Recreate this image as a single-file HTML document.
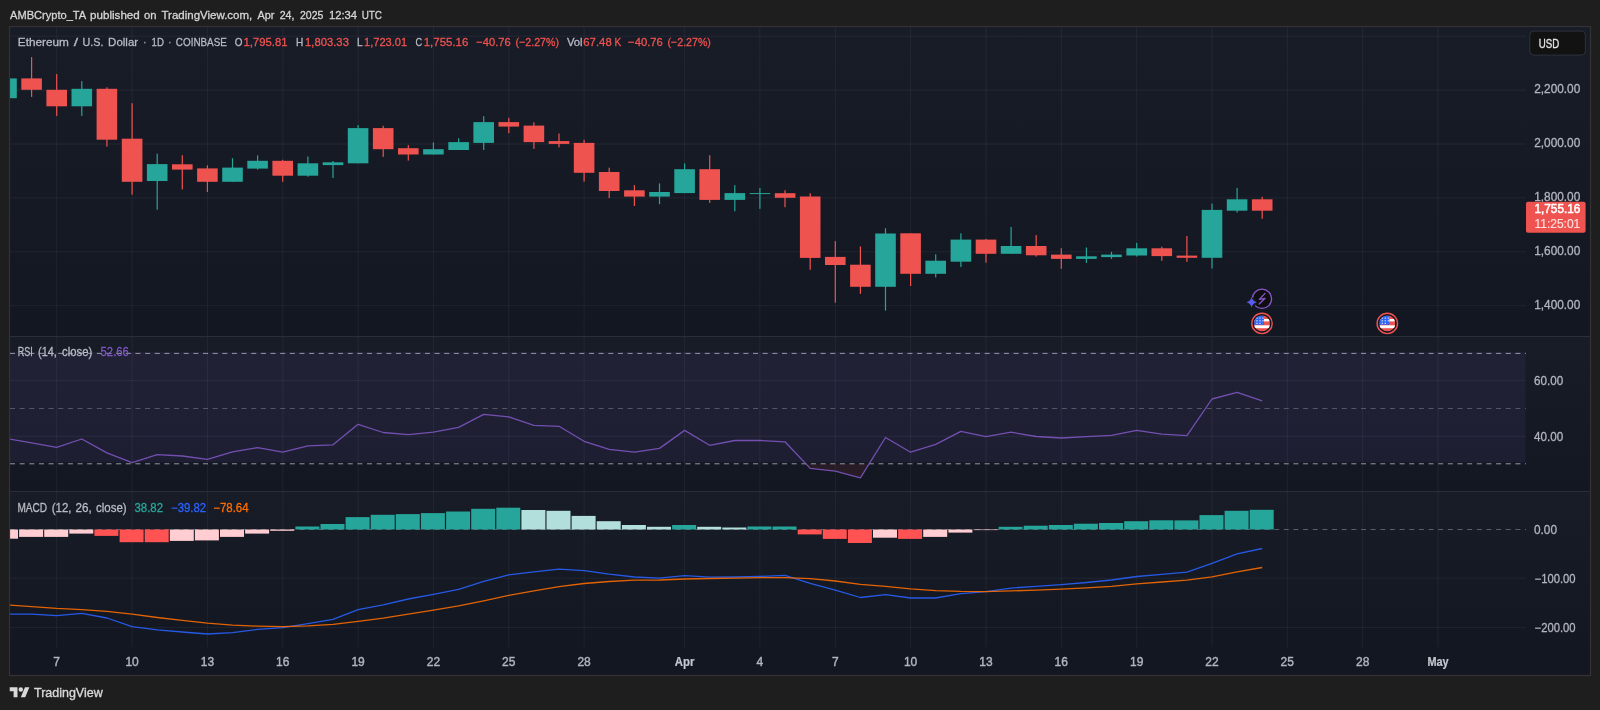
<!DOCTYPE html><html><head><meta charset="utf-8"><title>ETHUSD</title>
<style>html,body{margin:0;padding:0;background:#1e1e1e;}body{width:1600px;height:710px;overflow:hidden;font-family:"Liberation Sans",sans-serif;}svg{display:block;}text{font-family:"Liberation Sans",sans-serif;}</style></head><body>
<svg width="1600" height="710" viewBox="0 0 1600 710" style="will-change:transform">
<defs><linearGradient id="pg" x1="0" y1="0" x2="0" y2="1"><stop offset="0" stop-color="#181c27"/><stop offset="1" stop-color="#131722"/></linearGradient>
<clipPath id="plot"><rect x="10" y="27" width="1516" height="620"/></clipPath>
<clipPath id="fc"><circle cx="0" cy="0" r="8"/></clipPath>
</defs>
<rect width="1600" height="710" fill="#1e1e1e"/>
<rect x="10" y="27" width="1580" height="309" fill="url(#pg)"/>
<rect x="10" y="336" width="1580" height="155" fill="url(#pg)"/>
<rect x="10" y="491" width="1580" height="156" fill="url(#pg)"/>
<rect x="10" y="647" width="1580" height="28" fill="#131722"/>
<rect x="10" y="351.9" width="1515.6" height="110.4" fill="rgba(126,87,194,0.1)"/>
<path d="M56.7 27V647M132.1 27V647M207.4 27V647M282.8 27V647M358.1 27V647M433.4 27V647M508.8 27V647M584.1 27V647M684.6 27V647M759.9 27V647M835.3 27V647M910.6 27V647M986.0 27V647M1061.3 27V647M1136.7 27V647M1212.0 27V647M1287.3 27V647M1362.7 27V647M1438.0 27V647M10 36.2H1526M10 90.1H1526M10 144.0H1526M10 197.9H1526M10 251.8H1526M10 305.7H1526M10 380.6H1526M10 436.3H1526M10 578.2H1526M10 627.4H1526" stroke="rgba(240,243,250,0.06)" stroke-width="1" fill="none"/>
<path d="M10 336.5H1590M10 491.5H1590" stroke="#2a2e39" stroke-width="1" fill="none"/>
<path d="M10 353.4H1526M10 463.8H1526" stroke="#9598a1" stroke-width="1" stroke-dasharray="5 4.65" fill="none"/>
<path d="M10 408.5H1526" stroke="#787b86" stroke-opacity="0.6" stroke-width="1" stroke-dasharray="5 4.65" fill="none"/>
<path d="M10 529.5H1526" stroke="#787b86" stroke-opacity="0.7" stroke-width="1" stroke-dasharray="5 4.65" fill="none"/>
<g clip-path="url(#plot)">
<rect x="5.9" y="78.4" width="1.2" height="19.8" fill="#26a69a"/><rect x="-3.8" y="78.4" width="20.6" height="19.8" fill="#26a69a"/>
<rect x="31.0" y="57.1" width="1.2" height="39.8" fill="#ef5350"/><rect x="21.3" y="78.4" width="20.6" height="11.4" fill="#ef5350"/>
<rect x="56.1" y="74.1" width="1.2" height="41.8" fill="#ef5350"/><rect x="46.4" y="89.8" width="20.6" height="16.5" fill="#ef5350"/>
<rect x="81.2" y="81.2" width="1.2" height="34.7" fill="#26a69a"/><rect x="71.5" y="88.8" width="20.6" height="17.5" fill="#26a69a"/>
<rect x="106.3" y="87.3" width="1.2" height="59.3" fill="#ef5350"/><rect x="96.6" y="88.8" width="20.6" height="50.9" fill="#ef5350"/>
<rect x="131.5" y="103.2" width="1.2" height="91.5" fill="#ef5350"/><rect x="121.8" y="138.7" width="20.6" height="43.1" fill="#ef5350"/>
<rect x="156.6" y="153.7" width="1.2" height="56.0" fill="#26a69a"/><rect x="146.9" y="164.1" width="20.6" height="16.9" fill="#26a69a"/>
<rect x="181.7" y="155.2" width="1.2" height="34.2" fill="#ef5350"/><rect x="172.0" y="164.3" width="20.6" height="5.3" fill="#ef5350"/>
<rect x="206.8" y="165.3" width="1.2" height="26.7" fill="#ef5350"/><rect x="197.1" y="168.4" width="20.6" height="13.4" fill="#ef5350"/>
<rect x="231.9" y="158.2" width="1.2" height="23.6" fill="#26a69a"/><rect x="222.2" y="167.6" width="20.6" height="14.2" fill="#26a69a"/>
<rect x="257.0" y="155.4" width="1.2" height="14.2" fill="#26a69a"/><rect x="247.3" y="160.8" width="20.6" height="7.8" fill="#26a69a"/>
<rect x="282.1" y="159.8" width="1.2" height="22.0" fill="#ef5350"/><rect x="272.4" y="160.8" width="20.6" height="14.9" fill="#ef5350"/>
<rect x="307.3" y="156.5" width="1.2" height="20.2" fill="#26a69a"/><rect x="297.6" y="163.3" width="20.6" height="12.4" fill="#26a69a"/>
<rect x="332.4" y="161.0" width="1.2" height="17.0" fill="#26a69a"/><rect x="322.7" y="162.3" width="20.6" height="2.8" fill="#26a69a"/>
<rect x="357.5" y="125.0" width="1.2" height="38.3" fill="#26a69a"/><rect x="347.8" y="128.1" width="20.6" height="35.2" fill="#26a69a"/>
<rect x="382.6" y="125.8" width="1.2" height="31.1" fill="#ef5350"/><rect x="372.9" y="128.1" width="20.6" height="21.1" fill="#ef5350"/>
<rect x="407.7" y="145.1" width="1.2" height="15.5" fill="#ef5350"/><rect x="398.0" y="148.2" width="20.6" height="6.3" fill="#ef5350"/>
<rect x="432.8" y="142.4" width="1.2" height="12.1" fill="#26a69a"/><rect x="423.1" y="149.2" width="20.6" height="5.3" fill="#26a69a"/>
<rect x="458.0" y="138.3" width="1.2" height="11.7" fill="#26a69a"/><rect x="448.3" y="142.1" width="20.6" height="7.9" fill="#26a69a"/>
<rect x="483.1" y="116.2" width="1.2" height="33.8" fill="#26a69a"/><rect x="473.4" y="122.1" width="20.6" height="20.8" fill="#26a69a"/>
<rect x="508.2" y="117.8" width="1.2" height="15.4" fill="#ef5350"/><rect x="498.5" y="122.1" width="20.6" height="4.5" fill="#ef5350"/>
<rect x="533.3" y="122.3" width="1.2" height="26.6" fill="#ef5350"/><rect x="523.6" y="125.6" width="20.6" height="16.5" fill="#ef5350"/>
<rect x="558.4" y="133.5" width="1.2" height="13.9" fill="#ef5350"/><rect x="548.7" y="141.1" width="20.6" height="2.8" fill="#ef5350"/>
<rect x="583.5" y="139.8" width="1.2" height="41.8" fill="#ef5350"/><rect x="573.8" y="142.9" width="20.6" height="29.9" fill="#ef5350"/>
<rect x="608.6" y="167.7" width="1.2" height="30.4" fill="#ef5350"/><rect x="598.9" y="172.0" width="20.6" height="19.0" fill="#ef5350"/>
<rect x="633.8" y="185.2" width="1.2" height="20.8" fill="#ef5350"/><rect x="624.1" y="190.3" width="20.6" height="6.3" fill="#ef5350"/>
<rect x="658.9" y="183.4" width="1.2" height="20.8" fill="#26a69a"/><rect x="649.2" y="192.0" width="20.6" height="4.6" fill="#26a69a"/>
<rect x="684.0" y="163.4" width="1.2" height="29.7" fill="#26a69a"/><rect x="674.3" y="169.2" width="20.6" height="23.9" fill="#26a69a"/>
<rect x="709.1" y="155.3" width="1.2" height="47.6" fill="#ef5350"/><rect x="699.4" y="169.2" width="20.6" height="30.7" fill="#ef5350"/>
<rect x="734.2" y="185.2" width="1.2" height="26.1" fill="#26a69a"/><rect x="724.5" y="193.1" width="20.6" height="6.8" fill="#26a69a"/>
<rect x="759.3" y="188.0" width="1.2" height="20.8" fill="#26a69a"/><rect x="749.6" y="193.1" width="20.6" height="1.0" fill="#26a69a"/>
<rect x="784.4" y="190.2" width="1.2" height="17.0" fill="#ef5350"/><rect x="774.8" y="193.2" width="20.6" height="4.6" fill="#ef5350"/>
<rect x="809.6" y="193.2" width="1.2" height="76.6" fill="#ef5350"/><rect x="799.9" y="196.5" width="20.6" height="61.4" fill="#ef5350"/>
<rect x="834.7" y="241.1" width="1.2" height="61.6" fill="#ef5350"/><rect x="825.0" y="256.9" width="20.6" height="8.1" fill="#ef5350"/>
<rect x="859.8" y="246.5" width="1.2" height="47.4" fill="#ef5350"/><rect x="850.1" y="264.7" width="20.6" height="22.1" fill="#ef5350"/>
<rect x="884.9" y="228.2" width="1.2" height="82.4" fill="#26a69a"/><rect x="875.2" y="233.5" width="20.6" height="53.3" fill="#26a69a"/>
<rect x="910.0" y="233.3" width="1.2" height="52.7" fill="#ef5350"/><rect x="900.3" y="233.3" width="20.6" height="40.5" fill="#ef5350"/>
<rect x="935.1" y="254.3" width="1.2" height="23.1" fill="#26a69a"/><rect x="925.4" y="260.7" width="20.6" height="13.1" fill="#26a69a"/>
<rect x="960.3" y="233.3" width="1.2" height="33.7" fill="#26a69a"/><rect x="950.6" y="239.6" width="20.6" height="22.1" fill="#26a69a"/>
<rect x="985.4" y="238.9" width="1.2" height="23.8" fill="#ef5350"/><rect x="975.7" y="239.6" width="20.6" height="14.2" fill="#ef5350"/>
<rect x="1010.5" y="226.9" width="1.2" height="26.9" fill="#26a69a"/><rect x="1000.8" y="246.0" width="20.6" height="7.8" fill="#26a69a"/>
<rect x="1035.6" y="235.1" width="1.2" height="21.5" fill="#ef5350"/><rect x="1025.9" y="246.0" width="20.6" height="9.3" fill="#ef5350"/>
<rect x="1060.7" y="248.2" width="1.2" height="20.6" fill="#ef5350"/><rect x="1051.0" y="254.6" width="20.6" height="4.3" fill="#ef5350"/>
<rect x="1085.8" y="247.5" width="1.2" height="15.4" fill="#26a69a"/><rect x="1076.1" y="256.3" width="20.6" height="2.6" fill="#26a69a"/>
<rect x="1110.9" y="251.8" width="1.2" height="7.1" fill="#26a69a"/><rect x="1101.2" y="254.6" width="20.6" height="2.5" fill="#26a69a"/>
<rect x="1136.1" y="242.9" width="1.2" height="13.6" fill="#26a69a"/><rect x="1126.4" y="248.3" width="20.6" height="7.2" fill="#26a69a"/>
<rect x="1161.2" y="246.7" width="1.2" height="14.2" fill="#ef5350"/><rect x="1151.5" y="248.3" width="20.6" height="7.8" fill="#ef5350"/>
<rect x="1186.3" y="236.0" width="1.2" height="25.9" fill="#ef5350"/><rect x="1176.6" y="255.6" width="20.6" height="2.2" fill="#ef5350"/>
<rect x="1211.4" y="203.6" width="1.2" height="64.9" fill="#26a69a"/><rect x="1201.7" y="209.9" width="20.6" height="47.9" fill="#26a69a"/>
<rect x="1236.5" y="187.9" width="1.2" height="24.6" fill="#26a69a"/><rect x="1226.8" y="199.3" width="20.6" height="11.4" fill="#26a69a"/>
<rect x="1261.6" y="196.8" width="1.2" height="22.0" fill="#ef5350"/><rect x="1251.9" y="199.3" width="20.6" height="11.4" fill="#ef5350"/>
<rect x="-6.0" y="529.5" width="24" height="9.2" fill="#ffcdd2"/>
<rect x="19.1" y="529.5" width="24" height="7.4" fill="#ffcdd2"/>
<rect x="44.2" y="529.5" width="24" height="7.4" fill="#ffcdd2"/>
<rect x="69.3" y="529.5" width="24" height="4.1" fill="#ffcdd2"/>
<rect x="94.4" y="529.5" width="24" height="6.4" fill="#ff5252"/>
<rect x="119.6" y="529.5" width="24" height="12.7" fill="#ff5252"/>
<rect x="144.7" y="529.5" width="24" height="12.7" fill="#ff5252"/>
<rect x="169.8" y="529.5" width="24" height="11.4" fill="#ffcdd2"/>
<rect x="194.9" y="529.5" width="24" height="10.9" fill="#ffcdd2"/>
<rect x="220.0" y="529.5" width="24" height="7.4" fill="#ffcdd2"/>
<rect x="245.1" y="529.5" width="24" height="4.1" fill="#ffcdd2"/>
<rect x="270.2" y="529.5" width="24" height="1.3" fill="#ffcdd2"/>
<rect x="295.4" y="526.5" width="24" height="3.0" fill="#26a69a"/>
<rect x="320.5" y="524.0" width="24" height="5.5" fill="#26a69a"/>
<rect x="345.6" y="517.1" width="24" height="12.4" fill="#26a69a"/>
<rect x="370.7" y="514.8" width="24" height="14.7" fill="#26a69a"/>
<rect x="395.8" y="514.1" width="24" height="15.4" fill="#26a69a"/>
<rect x="420.9" y="513.1" width="24" height="16.4" fill="#26a69a"/>
<rect x="446.1" y="511.5" width="24" height="18.0" fill="#26a69a"/>
<rect x="471.2" y="508.8" width="24" height="20.7" fill="#26a69a"/>
<rect x="496.3" y="507.7" width="24" height="21.8" fill="#26a69a"/>
<rect x="521.4" y="510.0" width="24" height="19.5" fill="#b2dfdb"/>
<rect x="546.5" y="510.8" width="24" height="18.7" fill="#b2dfdb"/>
<rect x="571.6" y="515.9" width="24" height="13.6" fill="#b2dfdb"/>
<rect x="596.7" y="521.2" width="24" height="8.3" fill="#b2dfdb"/>
<rect x="621.9" y="525.0" width="24" height="4.5" fill="#b2dfdb"/>
<rect x="647.0" y="526.8" width="24" height="2.7" fill="#b2dfdb"/>
<rect x="672.1" y="525.0" width="24" height="4.5" fill="#26a69a"/>
<rect x="697.2" y="526.8" width="24" height="2.7" fill="#b2dfdb"/>
<rect x="722.3" y="527.5" width="24" height="2.0" fill="#b2dfdb"/>
<rect x="747.4" y="526.5" width="24" height="3.0" fill="#26a69a"/>
<rect x="772.5" y="526.5" width="24" height="3.0" fill="#26a69a"/>
<rect x="797.7" y="529.5" width="24" height="4.9" fill="#ff5252"/>
<rect x="822.8" y="529.5" width="24" height="9.4" fill="#ff5252"/>
<rect x="847.9" y="529.5" width="24" height="13.5" fill="#ff5252"/>
<rect x="873.0" y="529.5" width="24" height="8.2" fill="#ffcdd2"/>
<rect x="898.1" y="529.5" width="24" height="9.4" fill="#ff5252"/>
<rect x="923.2" y="529.5" width="24" height="7.4" fill="#ffcdd2"/>
<rect x="948.4" y="529.5" width="24" height="3.1" fill="#ffcdd2"/>
<rect x="973.5" y="529.5" width="24" height="0.6" fill="#ffcdd2"/>
<rect x="998.6" y="526.8" width="24" height="2.7" fill="#26a69a"/>
<rect x="1023.7" y="525.7" width="24" height="3.8" fill="#26a69a"/>
<rect x="1048.8" y="525.0" width="24" height="4.5" fill="#26a69a"/>
<rect x="1073.9" y="523.7" width="24" height="5.8" fill="#26a69a"/>
<rect x="1099.0" y="523.0" width="24" height="6.5" fill="#26a69a"/>
<rect x="1124.2" y="521.2" width="24" height="8.3" fill="#26a69a"/>
<rect x="1149.3" y="520.3" width="24" height="9.2" fill="#26a69a"/>
<rect x="1174.4" y="520.4" width="24" height="9.1" fill="#26a69a"/>
<rect x="1199.5" y="515.1" width="24" height="14.4" fill="#26a69a"/>
<rect x="1224.6" y="510.8" width="24" height="18.7" fill="#26a69a"/>
<rect x="1249.7" y="509.8" width="24" height="19.7" fill="#26a69a"/>
<polygon points="805.6,463.8 810.2,468.4 835.3,471.2 860.4,477.8 869.2,463.8" fill="rgba(239,83,80,0.09)"/>
<polyline points="6.5,438.6 31.6,442.8 56.7,447.4 81.8,439.0 106.9,452.9 132.1,462.6 157.2,454.7 182.3,456.0 207.4,459.3 232.5,451.9 257.6,447.6 282.8,452.2 307.9,445.8 333.0,444.8 358.1,424.3 383.2,432.5 408.3,434.7 433.4,432.2 458.6,427.3 483.7,414.4 508.8,416.9 533.9,425.3 559.0,426.3 584.1,441.3 609.2,449.4 634.4,452.2 659.5,448.4 684.6,430.4 709.7,445.3 734.8,440.5 759.9,440.5 785.0,441.8 810.2,468.4 835.3,471.2 860.4,477.8 885.5,437.5 910.6,452.2 935.7,444.3 960.9,431.4 986.0,436.7 1011.1,432.2 1036.2,436.5 1061.3,438.0 1086.4,436.7 1111.5,435.4 1136.7,430.3 1161.8,434.1 1186.9,435.6 1212.0,399.0 1237.1,392.4 1262.2,400.8" fill="none" stroke="#7e57c2" stroke-width="1.3" stroke-opacity="0.88" stroke-linejoin="round"/>
<polyline points="6.5,614.2 31.6,614.2 56.7,615.7 81.8,613.4 106.9,618.0 132.1,626.6 157.2,629.9 182.3,632.0 207.4,634.0 232.5,632.7 257.6,629.4 282.8,627.6 307.9,623.6 333.0,619.3 358.1,609.6 383.2,604.8 408.3,599.0 433.4,594.4 458.6,589.4 483.7,581.3 508.8,574.9 533.9,571.9 559.0,569.1 584.1,570.6 609.2,574.2 634.4,577.0 659.5,578.2 684.6,575.7 709.7,577.2 734.8,577.0 759.9,576.4 785.0,575.4 810.2,583.3 835.3,590.1 860.4,597.5 885.5,594.7 910.6,598.0 935.7,598.0 960.9,593.7 986.0,591.6 1011.1,588.1 1036.2,586.3 1061.3,584.6 1086.4,582.5 1111.5,580.0 1136.7,576.5 1161.8,574.3 1186.9,572.1 1212.0,563.4 1237.1,553.8 1262.2,548.5" fill="none" stroke="#2962ff" stroke-width="1.3" stroke-opacity="0.88" stroke-linejoin="round"/>
<polyline points="6.5,604.8 31.6,606.6 56.7,608.4 81.8,609.6 106.9,611.4 132.1,614.2 157.2,617.5 182.3,620.3 207.4,623.1 232.5,625.1 257.6,626.1 282.8,626.6 307.9,625.9 333.0,624.3 358.1,621.3 383.2,618.2 408.3,614.2 433.4,610.2 458.6,605.8 483.7,600.8 508.8,595.4 533.9,590.9 559.0,586.6 584.1,583.5 609.2,581.5 634.4,580.2 659.5,580.0 684.6,579.0 709.7,578.5 734.8,578.2 759.9,577.7 785.0,577.7 810.2,578.7 835.3,581.0 860.4,584.3 885.5,586.3 910.6,588.9 935.7,590.6 960.9,591.4 986.0,591.6 1011.1,590.9 1036.2,590.1 1061.3,589.1 1086.4,587.8 1111.5,586.3 1136.7,583.8 1161.8,582.0 1186.9,580.2 1212.0,576.8 1237.1,571.8 1262.2,567.5" fill="none" stroke="#ff6d00" stroke-width="1.3" stroke-opacity="0.88" stroke-linejoin="round"/>
</g>
<rect x="9.5" y="26.5" width="1581" height="649" fill="none" stroke="#343232" stroke-width="1.2"/>
<text x="10" y="19.3" font-size="11.6" fill="#d6d6d6" textLength="76.2" lengthAdjust="spacingAndGlyphs" stroke="#d6d6d6" stroke-width="0.3">AMBCrypto_TA</text>
<text x="90" y="19.3" font-size="11.6" fill="#d6d6d6" textLength="49.8" lengthAdjust="spacingAndGlyphs" stroke="#d6d6d6" stroke-width="0.3">published</text>
<text x="144" y="19.3" font-size="11.6" fill="#d6d6d6" textLength="12.5" lengthAdjust="spacingAndGlyphs" stroke="#d6d6d6" stroke-width="0.3">on</text>
<text x="161.5" y="19.3" font-size="11.6" fill="#d6d6d6" textLength="90.8" lengthAdjust="spacingAndGlyphs" stroke="#d6d6d6" stroke-width="0.3">TradingView.com,</text>
<text x="257.5" y="19.3" font-size="11.6" fill="#d6d6d6" textLength="17.0" lengthAdjust="spacingAndGlyphs" stroke="#d6d6d6" stroke-width="0.3">Apr</text>
<text x="279.7" y="19.3" font-size="11.6" fill="#d6d6d6" textLength="14.8" lengthAdjust="spacingAndGlyphs" stroke="#d6d6d6" stroke-width="0.3">24,</text>
<text x="300" y="19.3" font-size="11.6" fill="#d6d6d6" textLength="23.4" lengthAdjust="spacingAndGlyphs" stroke="#d6d6d6" stroke-width="0.3">2025</text>
<text x="328.9" y="19.3" font-size="11.6" fill="#d6d6d6" textLength="28.1" lengthAdjust="spacingAndGlyphs" stroke="#d6d6d6" stroke-width="0.3">12:34</text>
<text x="361.7" y="19.3" font-size="11.6" fill="#d6d6d6" textLength="20.3" lengthAdjust="spacingAndGlyphs" stroke="#d6d6d6" stroke-width="0.3">UTC</text>
<text x="17.75" y="45.8" font-size="11.8" fill="#b8bbc4" textLength="51.2" lengthAdjust="spacingAndGlyphs" stroke="#b8bbc4" stroke-width="0.3">Ethereum</text>
<text x="73.75" y="45.8" font-size="11.8" fill="#b8bbc4" textLength="4.3" lengthAdjust="spacingAndGlyphs" stroke="#b8bbc4" stroke-width="0.3">/</text>
<text x="82.5" y="45.8" font-size="11.8" fill="#b8bbc4" textLength="21.0" lengthAdjust="spacingAndGlyphs" stroke="#b8bbc4" stroke-width="0.3">U.S.</text>
<text x="108.1" y="45.8" font-size="11.8" fill="#b8bbc4" textLength="30.0" lengthAdjust="spacingAndGlyphs" stroke="#b8bbc4" stroke-width="0.3">Dollar</text>
<text x="143.5" y="45.8" font-size="11.8" fill="#b8bbc4" textLength="2.7" lengthAdjust="spacingAndGlyphs" stroke="#b8bbc4" stroke-width="0.3">·</text>
<text x="151.6" y="45.8" font-size="11.8" fill="#b8bbc4" textLength="12.4" lengthAdjust="spacingAndGlyphs" stroke="#b8bbc4" stroke-width="0.3">1D</text>
<text x="168.5" y="45.8" font-size="11.8" fill="#b8bbc4" textLength="2.7" lengthAdjust="spacingAndGlyphs" stroke="#b8bbc4" stroke-width="0.3">·</text>
<text x="175.8" y="45.8" font-size="11.8" fill="#b8bbc4" textLength="51.1" lengthAdjust="spacingAndGlyphs" stroke="#b8bbc4" stroke-width="0.3">COINBASE</text>
<text x="234.8" y="45.8" font-size="11.8" fill="#b8bbc4" textLength="7.7" lengthAdjust="spacingAndGlyphs" stroke="#b8bbc4" stroke-width="0.3">O</text>
<text x="243.4" y="45.8" font-size="11.8" fill="#ef5350" textLength="44.1" lengthAdjust="spacingAndGlyphs" stroke="#ef5350" stroke-width="0.3">1,795.81</text>
<text x="296.1" y="45.8" font-size="11.8" fill="#b8bbc4" textLength="7.3" lengthAdjust="spacingAndGlyphs" stroke="#b8bbc4" stroke-width="0.3">H</text>
<text x="305" y="45.8" font-size="11.8" fill="#ef5350" textLength="43.9" lengthAdjust="spacingAndGlyphs" stroke="#ef5350" stroke-width="0.3">1,803.33</text>
<text x="356.9" y="45.8" font-size="11.8" fill="#b8bbc4" textLength="5.6" lengthAdjust="spacingAndGlyphs" stroke="#b8bbc4" stroke-width="0.3">L</text>
<text x="364" y="45.8" font-size="11.8" fill="#ef5350" textLength="43.2" lengthAdjust="spacingAndGlyphs" stroke="#ef5350" stroke-width="0.3">1,723.01</text>
<text x="415.6" y="45.8" font-size="11.8" fill="#b8bbc4" textLength="6.6" lengthAdjust="spacingAndGlyphs" stroke="#b8bbc4" stroke-width="0.3">C</text>
<text x="423.75" y="45.8" font-size="11.8" fill="#ef5350" textLength="44.6" lengthAdjust="spacingAndGlyphs" stroke="#ef5350" stroke-width="0.3">1,755.16</text>
<text x="476.25" y="45.8" font-size="11.8" fill="#ef5350" textLength="34.4" lengthAdjust="spacingAndGlyphs" stroke="#ef5350" stroke-width="0.3">−40.76</text>
<text x="515.6" y="45.8" font-size="11.8" fill="#ef5350" textLength="43.4" lengthAdjust="spacingAndGlyphs" stroke="#ef5350" stroke-width="0.3">(−2.27%)</text>
<text x="566.9" y="45.8" font-size="11.8" fill="#b8bbc4" textLength="15.7" lengthAdjust="spacingAndGlyphs" stroke="#b8bbc4" stroke-width="0.3">Vol</text>
<text x="583.3" y="45.8" font-size="11.8" fill="#ef5350" textLength="28.4" lengthAdjust="spacingAndGlyphs" stroke="#ef5350" stroke-width="0.3">67.48</text>
<text x="614.4" y="45.8" font-size="11.8" fill="#ef5350" textLength="6.7" lengthAdjust="spacingAndGlyphs" stroke="#ef5350" stroke-width="0.3">K</text>
<text x="628.1" y="45.8" font-size="11.8" fill="#ef5350" textLength="34.7" lengthAdjust="spacingAndGlyphs" stroke="#ef5350" stroke-width="0.3">−40.76</text>
<text x="667.5" y="45.8" font-size="11.8" fill="#ef5350" textLength="43.4" lengthAdjust="spacingAndGlyphs" stroke="#ef5350" stroke-width="0.3">(−2.27%)</text>
<text x="17.75" y="356.4" font-size="12" fill="#b8bbc4" textLength="15.0" lengthAdjust="spacingAndGlyphs" stroke="#b8bbc4" stroke-width="0.3">RSI</text>
<text x="38.1" y="356.4" font-size="12" fill="#b8bbc4" textLength="18.8" lengthAdjust="spacingAndGlyphs" stroke="#b8bbc4" stroke-width="0.3">(14,</text>
<text x="62.1" y="356.4" font-size="12" fill="#b8bbc4" textLength="30.1" lengthAdjust="spacingAndGlyphs" stroke="#b8bbc4" stroke-width="0.3">close)</text>
<text x="100.6" y="356.4" font-size="12" fill="#7e57c2" textLength="28.2" lengthAdjust="spacingAndGlyphs" stroke="#7e57c2" stroke-width="0.3">52.66</text>
<text x="17.4" y="512" font-size="12" fill="#b8bbc4" textLength="29.7" lengthAdjust="spacingAndGlyphs" stroke="#b8bbc4" stroke-width="0.3">MACD</text>
<text x="51.7" y="512" font-size="12" fill="#b8bbc4" textLength="19.8" lengthAdjust="spacingAndGlyphs" stroke="#b8bbc4" stroke-width="0.3">(12,</text>
<text x="75.6" y="512" font-size="12" fill="#b8bbc4" textLength="16.2" lengthAdjust="spacingAndGlyphs" stroke="#b8bbc4" stroke-width="0.3">26,</text>
<text x="95.9" y="512" font-size="12" fill="#b8bbc4" textLength="30.8" lengthAdjust="spacingAndGlyphs" stroke="#b8bbc4" stroke-width="0.3">close)</text>
<text x="134.5" y="512" font-size="12" fill="#26a69a" textLength="28.5" lengthAdjust="spacingAndGlyphs" stroke="#26a69a" stroke-width="0.3">38.82</text>
<text x="171.1" y="512" font-size="12" fill="#2962ff" textLength="34.9" lengthAdjust="spacingAndGlyphs" stroke="#2962ff" stroke-width="0.3">−39.82</text>
<text x="213.2" y="512" font-size="12" fill="#ff6d00" textLength="35.4" lengthAdjust="spacingAndGlyphs" stroke="#ff6d00" stroke-width="0.3">−78.64</text>
<text x="1534.2" y="93.1" font-size="12" fill="#b2b5be" textLength="46.1" lengthAdjust="spacingAndGlyphs" stroke="#b2b5be" stroke-width="0.3">2,200.00</text>
<text x="1534.2" y="147.0" font-size="12" fill="#b2b5be" textLength="46.1" lengthAdjust="spacingAndGlyphs" stroke="#b2b5be" stroke-width="0.3">2,000.00</text>
<text x="1534.2" y="200.9" font-size="12" fill="#b2b5be" textLength="46.1" lengthAdjust="spacingAndGlyphs" stroke="#b2b5be" stroke-width="0.3">1,800.00</text>
<text x="1534.2" y="254.8" font-size="12" fill="#b2b5be" textLength="46.1" lengthAdjust="spacingAndGlyphs" stroke="#b2b5be" stroke-width="0.3">1,600.00</text>
<text x="1534.2" y="308.7" font-size="12" fill="#b2b5be" textLength="46.1" lengthAdjust="spacingAndGlyphs" stroke="#b2b5be" stroke-width="0.3">1,400.00</text>
<text x="1534" y="384.8" font-size="12" fill="#b2b5be" textLength="29.1" lengthAdjust="spacingAndGlyphs" stroke="#b2b5be" stroke-width="0.3">60.00</text>
<text x="1534" y="441.2" font-size="12" fill="#b2b5be" textLength="29.1" lengthAdjust="spacingAndGlyphs" stroke="#b2b5be" stroke-width="0.3">40.00</text>
<text x="1534" y="533.8" font-size="12" fill="#b2b5be" textLength="23.0" lengthAdjust="spacingAndGlyphs" stroke="#b2b5be" stroke-width="0.3">0.00</text>
<text x="1534.6" y="582.8" font-size="12" fill="#b2b5be" textLength="41.0" lengthAdjust="spacingAndGlyphs" stroke="#b2b5be" stroke-width="0.3">−100.00</text>
<text x="1534.6" y="631.8" font-size="12" fill="#b2b5be" textLength="41.0" lengthAdjust="spacingAndGlyphs" stroke="#b2b5be" stroke-width="0.3">−200.00</text>
<text x="56.7" y="665.8" font-size="12" fill="#b2b5be" text-anchor="middle" stroke="#b2b5be" stroke-width="0.4">7</text>
<text x="132.1" y="665.8" font-size="12" fill="#b2b5be" text-anchor="middle" stroke="#b2b5be" stroke-width="0.4">10</text>
<text x="207.4" y="665.8" font-size="12" fill="#b2b5be" text-anchor="middle" stroke="#b2b5be" stroke-width="0.4">13</text>
<text x="282.8" y="665.8" font-size="12" fill="#b2b5be" text-anchor="middle" stroke="#b2b5be" stroke-width="0.4">16</text>
<text x="358.1" y="665.8" font-size="12" fill="#b2b5be" text-anchor="middle" stroke="#b2b5be" stroke-width="0.4">19</text>
<text x="433.4" y="665.8" font-size="12" fill="#b2b5be" text-anchor="middle" stroke="#b2b5be" stroke-width="0.4">22</text>
<text x="508.8" y="665.8" font-size="12" fill="#b2b5be" text-anchor="middle" stroke="#b2b5be" stroke-width="0.4">25</text>
<text x="584.1" y="665.8" font-size="12" fill="#b2b5be" text-anchor="middle" stroke="#b2b5be" stroke-width="0.4">28</text>
<text x="684.6" y="665.8" font-size="12" fill="#c5c8d0" text-anchor="middle" textLength="19.6" lengthAdjust="spacingAndGlyphs" font-weight="bold" stroke="#c5c8d0" stroke-width="0.2">Apr</text>
<text x="759.9" y="665.8" font-size="12" fill="#b2b5be" text-anchor="middle" stroke="#b2b5be" stroke-width="0.4">4</text>
<text x="835.3" y="665.8" font-size="12" fill="#b2b5be" text-anchor="middle" stroke="#b2b5be" stroke-width="0.4">7</text>
<text x="910.6" y="665.8" font-size="12" fill="#b2b5be" text-anchor="middle" stroke="#b2b5be" stroke-width="0.4">10</text>
<text x="986.0" y="665.8" font-size="12" fill="#b2b5be" text-anchor="middle" stroke="#b2b5be" stroke-width="0.4">13</text>
<text x="1061.3" y="665.8" font-size="12" fill="#b2b5be" text-anchor="middle" stroke="#b2b5be" stroke-width="0.4">16</text>
<text x="1136.7" y="665.8" font-size="12" fill="#b2b5be" text-anchor="middle" stroke="#b2b5be" stroke-width="0.4">19</text>
<text x="1212.0" y="665.8" font-size="12" fill="#b2b5be" text-anchor="middle" stroke="#b2b5be" stroke-width="0.4">22</text>
<text x="1287.3" y="665.8" font-size="12" fill="#b2b5be" text-anchor="middle" stroke="#b2b5be" stroke-width="0.4">25</text>
<text x="1362.7" y="665.8" font-size="12" fill="#b2b5be" text-anchor="middle" stroke="#b2b5be" stroke-width="0.4">28</text>
<text x="1438.0" y="665.8" font-size="12" fill="#c5c8d0" text-anchor="middle" textLength="21.2" lengthAdjust="spacingAndGlyphs" font-weight="bold" stroke="#c5c8d0" stroke-width="0.2">May</text>
<rect x="1526" y="201.8" width="59.6" height="31" rx="2" fill="#ef5350"/>
<text x="1534.5" y="213.1" font-size="12" fill="#ffffff" textLength="45.8" lengthAdjust="spacingAndGlyphs" stroke="#ffffff" stroke-width="0.5">1,755.16</text>
<text x="1534.5" y="227.6" font-size="12" fill="#fde0df" textLength="45.8" lengthAdjust="spacingAndGlyphs" stroke="#fde0df" stroke-width="0.15">11:25:01</text>
<rect x="1529.8" y="31.1" width="55.6" height="24" rx="4" fill="#121212" stroke="#2f323b" stroke-width="1"/>
<text x="1538.7" y="47.5" font-size="12" fill="#e6e6e6" textLength="20.5" lengthAdjust="spacingAndGlyphs" stroke="#e6e6e6" stroke-width="0.3">USD</text>
<g transform="translate(1262,323.4)"><circle r="10.2" fill="#131722" stroke="#ef5350" stroke-width="1.4"/><g clip-path="url(#fc)"><rect x="-8" y="-8" width="16" height="16" fill="#ef5350"/><rect x="-8" y="-4.4" width="16" height="2.4" fill="#fff"/><rect x="-8" y="1.9" width="16" height="2.9" fill="#fff"/><rect x="-8" y="-8" width="10" height="9.4" fill="#2f66f5"/><rect x="-5.6" y="-5.8999999999999995" width="1.2" height="1.2" fill="#dfe8ff"/><rect x="-2.6" y="-5.8999999999999995" width="1.2" height="1.2" fill="#dfe8ff"/><rect x="0.4" y="-5.8999999999999995" width="1.2" height="1.2" fill="#dfe8ff"/><rect x="-5.6" y="-3.2" width="1.2" height="1.2" fill="#dfe8ff"/><rect x="-2.6" y="-3.2" width="1.2" height="1.2" fill="#dfe8ff"/><rect x="0.4" y="-3.2" width="1.2" height="1.2" fill="#dfe8ff"/><rect x="-5.6" y="-0.6" width="1.2" height="1.2" fill="#dfe8ff"/><rect x="-2.6" y="-0.6" width="1.2" height="1.2" fill="#dfe8ff"/></g></g>
<g transform="translate(1387.3,323.4)"><circle r="10.2" fill="#131722" stroke="#ef5350" stroke-width="1.4"/><g clip-path="url(#fc)"><rect x="-8" y="-8" width="16" height="16" fill="#ef5350"/><rect x="-8" y="-4.4" width="16" height="2.4" fill="#fff"/><rect x="-8" y="1.9" width="16" height="2.9" fill="#fff"/><rect x="-8" y="-8" width="10" height="9.4" fill="#2f66f5"/><rect x="-5.6" y="-5.8999999999999995" width="1.2" height="1.2" fill="#dfe8ff"/><rect x="-2.6" y="-5.8999999999999995" width="1.2" height="1.2" fill="#dfe8ff"/><rect x="0.4" y="-5.8999999999999995" width="1.2" height="1.2" fill="#dfe8ff"/><rect x="-5.6" y="-3.2" width="1.2" height="1.2" fill="#dfe8ff"/><rect x="-2.6" y="-3.2" width="1.2" height="1.2" fill="#dfe8ff"/><rect x="0.4" y="-3.2" width="1.2" height="1.2" fill="#dfe8ff"/><rect x="-5.6" y="-0.6" width="1.2" height="1.2" fill="#dfe8ff"/><rect x="-2.6" y="-0.6" width="1.2" height="1.2" fill="#dfe8ff"/></g></g>
<g transform="translate(1262,298.8)"><circle r="9.6" fill="#0e0e10" stroke="#8a57cc" stroke-width="1.3"/><path d="M3 -5.4L-2.7 0.6L3.1 -0.5L-2.8 5.2" fill="none" stroke="#8a57cc" stroke-width="1.3" stroke-linejoin="round" stroke-linecap="round"/><circle cx="-10.4" cy="3.5" r="4.9" fill="#161a25"/><path d="M-10.4 -1.7Q-9.4 2.5 -5.2 3.5Q-9.4 4.5 -10.4 8.7Q-11.4 4.5 -15.6 3.5Q-11.4 2.5 -10.4 -1.7Z" fill="#5a5cf0"/></g>
<g transform="translate(9.75,685.1) scale(0.553)" fill="#d9d9d9"><path d="M14 22H7V11H0V4h14v18zM28 22h-8l7.5-18h8L28 22z"/><circle cx="20" cy="8" r="4"/></g>
<text x="34" y="697.0" font-size="13" fill="#d9d9d9" textLength="68.7" lengthAdjust="spacingAndGlyphs" stroke="#d9d9d9" stroke-width="0.35">TradingView</text>
</svg></body></html>
